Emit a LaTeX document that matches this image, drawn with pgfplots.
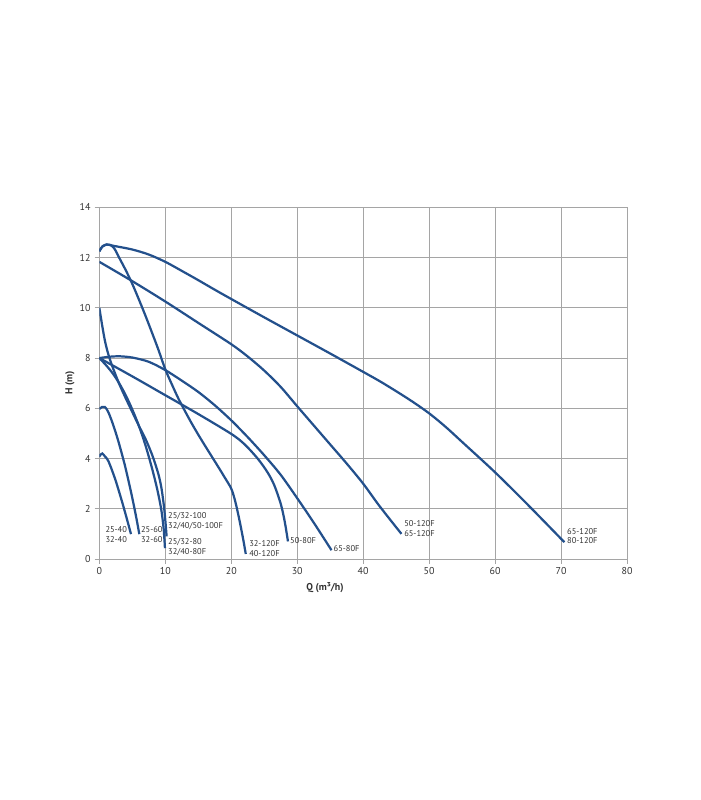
\documentclass[border=0pt]{standalone}
\usepackage{fontspec}
\setmainfont{PT Sans}
\usepackage{pgfplots}
\pgfplotsset{compat=1.18}
\definecolor{curve}{RGB}{35,80,140}
\definecolor{gridc}{RGB}{165,165,165}
\definecolor{txt}{RGB}{50,50,50}
\tikzset{pc/.style={draw=curve, line width=1.9pt, smooth, tension=0.5, mark=none}}
\begin{document}
\begin{tikzpicture}[x=1cm,y=1cm]
\useasboundingbox (-2.98,-7.23) rectangle (18.02,16.77);
\begin{axis}[
  scale only axis, width=15.83cm, height=10.55cm,
  at={(0,0)}, anchor=south west,
  xmin=0, xmax=80, ymin=0, ymax=14,
  xtick={0,10,...,80}, ytick={0,2,...,14},
  grid=major, major grid style={gridc, line width=0.8pt},
  axis line style={gridc, line width=0.8pt},
  tick style={gridc, line width=0.8pt},
  tick align=outside, major tick length=4pt, tick pos=left,
  /pgf/number format/assume math mode=true,
  tick label style={font=\fontsize{8.5}{10}\selectfont, text=txt},
  xlabel={\bfseries Q (m³/h)}, ylabel={\bfseries H (m)},
  label style={font=\fontsize{8.5}{10}\selectfont, text=txt},
  xlabel style={at={(axis description cs:0.4277,-0.0825)}, anchor=center},
  ylabel style={at={(axis description cs:-0.0555,0.50)}, anchor=center},
]
% 25-40 / 32-40
\addplot[pc] coordinates {(0,4.07) (0.2,4.16) (0.45,4.2) (0.8,4.1) (1.4,3.88) (2.4,3.18) (3.4,2.32) (4.15,1.62) (4.8,0.99)};
% 25-60 / 32-60
\addplot[pc] coordinates {(0,5.97) (0.4,6.05) (0.85,6.05) (1.3,5.88) (1.8,5.56) (2.4,5.1) (3.0,4.58) (3.9,3.7) (4.9,2.55) (5.6,1.65) (6.06,0.99)};
% 25/32-80
\addplot[pc] coordinates {(0,8) (1,7.72) (2,7.4) (3,7.0) (4,6.52) (5,5.95) (6,5.3) (7,4.52) (8,3.6) (8.8,2.75) (9.4,1.95) (9.75,1.2) (9.95,0.43)};
% 25/32-100
\addplot[pc] coordinates {(0,10) (0.4,9.35) (0.8,8.75) (1.2,8.3) (1.6,7.95) (2.1,7.58) (3,6.98) (4,6.4) (5,5.85) (6,5.3) (7,4.78) (8,4.15) (8.9,3.43) (9.4,2.85) (9.8,2.09) (10.05,1.4) (10.2,0.9)};
% 50-80F
\addplot[pc] coordinates {(0,8) (5,7.27) (10,6.52) (15,5.77) (20,4.98) (22,4.57) (24,4.0) (25.5,3.45) (26.5,2.95) (27.5,2.2) (28.1,1.5) (28.6,0.7)};
% 65-80F
\addplot[pc] coordinates {(0,8) (1.5,8.05) (3,8.07) (5,8.02) (7.5,7.85) (10,7.52) (12.5,7.1) (15,6.65) (17.5,6.12) (20,5.52) (22.5,4.85) (25,4.13) (27.5,3.35) (30,2.42) (32.5,1.45) (35.2,0.35)};
% 32-120F / 40-120F
\addplot[pc] coordinates {(0,12.25) (0.5,12.45) (1.1,12.52) (1.7,12.5) (2.3,12.35) (3,12.0) (4,11.5) (5,10.95) (6,10.33) (7,9.68) (8,9.0) (9,8.3) (10,7.55) (11,6.95) (12,6.38) (13,5.88) (14,5.4) (15,4.95) (16,4.52) (17,4.1) (18,3.68) (19,3.25) (20,2.8) (20.6,2.3) (21.2,1.6) (21.8,0.8) (22.2,0.2)};
% 65-120F / 80-120F
\addplot[pc] coordinates {(0,12.25) (0.5,12.45) (1.1,12.52) (2.1,12.47) (5,12.32) (7.5,12.12) (10,11.83) (12.5,11.47) (15,11.1) (17.5,10.72) (20,10.35) (25,9.62) (30,8.9) (35,8.18) (40,7.45) (42.5,7.08) (45,6.68) (47.5,6.26) (50,5.8) (52.5,5.26) (55,4.66) (60,3.45) (65,2.15) (70.5,0.67)};
% 50-120F / 65-120F
\addplot[pc] coordinates {(0,11.83) (5,11.06) (10,10.25) (15,9.4) (20,8.55) (22.5,8.06) (25,7.5) (27.5,6.85) (30,6.08) (32.5,5.32) (35,4.56) (37.5,3.8) (40,3.0) (42.5,2.1) (45.8,1.0)};
% labels
\begin{scope}[every node/.style={anchor=west, inner sep=0pt, text=txt, font=\fontsize{7.2}{8}\selectfont}]
\node at (axis cs:0.9,1.16) {25-40};
\node at (axis cs:0.9,0.76) {32-40};
\node at (axis cs:6.3,1.16) {25-60};
\node at (axis cs:6.3,0.76) {32-60};
\node at (axis cs:10.4,1.71) {25/32-100};
\node at (axis cs:10.4,1.32) {32/40/50-100F};
\node at (axis cs:10.4,0.68) {25/32-80};
\node at (axis cs:10.4,0.28) {32/40-80F};
\node at (axis cs:22.7,0.6) {32-120F};
\node at (axis cs:22.7,0.2) {40-120F};
\node at (axis cs:28.9,0.73) {50-80F};
\node at (axis cs:35.5,0.43) {65-80F};
\node at (axis cs:46.2,1.43) {50-120F};
\node at (axis cs:46.2,1.03) {65-120F};
\node at (axis cs:70.9,1.09) {65-120F};
\node at (axis cs:70.9,0.72) {80-120F};
\end{scope}
\end{axis}
\end{tikzpicture}
\end{document}
